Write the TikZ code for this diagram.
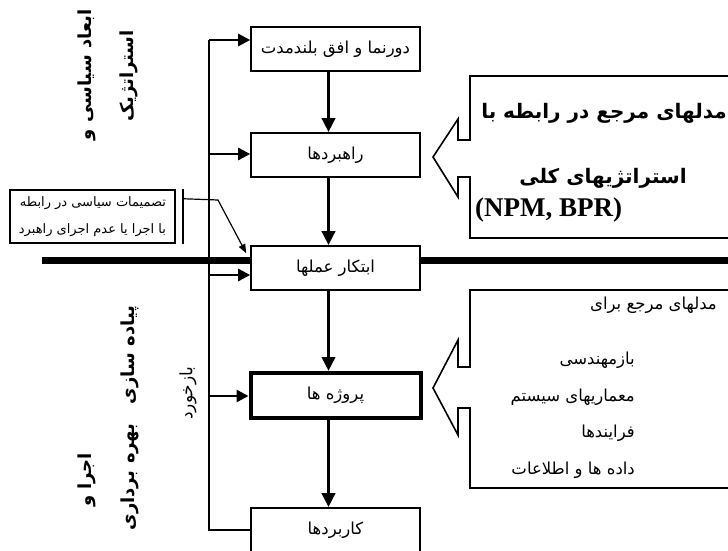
\documentclass[tikz,border=0pt]{standalone}
\usepackage{fontspec}
\newfontfamily\arabicfont[Script=Arabic]{DejaVu Sans}
\newfontfamily\timesfont{Liberation Serif}
\TeXXeTstate=1
\usetikzlibrary{arrows.meta}
\newcommand{\fa}[1]{\beginR #1\endR}
\tikzstyle{stage}=[draw,line width=1.6pt,fill=white,minimum width=169pt,minimum height=44pt,inner sep=0pt,font=\arabicfont\fontsize{16.5}{18}\selectfont]
\tikzstyle{flow} = [draw,line width=3.5pt,-{Triangle[length=14pt,width=13pt]}]
\tikzstyle{feed} = [draw,line width=2.5pt,-{Triangle[length=12pt,width=12pt]}]
\tikzstyle{decide} = [draw,line width=1.2pt,-{Triangle[length=9pt,width=7pt]}]
\tikzstyle{side label} = [rotate=90,inner sep=0pt,font=\arabicfont\bfseries\fontsize{18}{20}\selectfont]
\tikzstyle{callout} = [draw,line width=1.6pt]
\tikzstyle{ref title} = [inner sep=0pt,font=\arabicfont\bfseries\fontsize{20}{22}\selectfont]
\tikzstyle{model text} = [anchor=east,inner sep=0pt,font=\arabicfont\fontsize{16.5}{18}\selectfont]

\begin{document}
\begin{tikzpicture}[x=1pt,y=-1pt]
\useasboundingbox (0,0) rectangle (728,551);

% the thick line runs behind the stages
\coordinate (bar west) at (42,260);
\coordinate (bar east) at (728,260);
\draw[line width=7pt] (bar west) -- (bar east);

% First we draw the stages
\foreach \pos/\name/\text in {{(335.5,49)/vision/دورنما و افق بلندمدت}, {(335.5,155)/strategy/راهبردها}, {(335.5,268)/initiative/ابتکار عملها}, {(335.5,530)/application/کاربردها}}
  \node[stage] (\name) at \pos {\fa{\text}};
\node[stage,line width=4pt,minimum width=170pt,minimum height=45pt] (project) at (335.5,395.5) {\fa{پروژه ها}};

% Connect stages with arrows
\foreach \source/\dest in {vision/strategy, strategy/initiative, initiative/project, project/application}
  \path[flow] ([xshift=-7pt]\source.south) -- ([xshift=-7pt]\dest.north);

% feedback line
\foreach \name/\y in {fb1/40, fb2/154, fb3/275, fb4/396, fb5/530}
  \coordinate (\name) at (209,\y);
\draw[line width=1.8pt] (fb1) -- (fb5) -- (fb5 -| application.west);
\foreach \pt/\dest in {fb1/vision, fb2/strategy, fb3/initiative, fb4/project}
  \path[feed] (\pt) -- (\pt -| \dest.west);

% political decisions
\node[draw,line width=2.5pt,minimum width=165pt,minimum height=53pt,inner sep=3pt,align=right,font=\arabicfont\fontsize{13}{27}\selectfont] (decision) at (92.5,216.5) {\fa{تصمیمات سیاسی در رابطه}\\\fa{با اجرا یا عدم اجرای راهبرد}};
\draw[line width=2pt] ([xshift=7pt]decision.north east) -- ([xshift=7pt]decision.south east);
\coordinate (bend) at (218,200);
\path[decide] ([xshift=7pt,yshift=-10pt]decision.north east) -- (bend) -- ([xshift=-4pt,yshift=-8pt]initiative.north west);

% reference model callouts
\draw[callout] (728,76) -- (470,76) -- (470,140) -- (458,140) -- (458,119) -- (433,157) -- (458,197) -- (458,177) -- (470,177) -- (470,238) -- (728,238);
\draw[callout] (728,290) -- (470,290) -- (470,367) -- (458,367) -- (458,340) -- (433,388) -- (458,435) -- (458,408) -- (470,408) -- (470,488) -- (728,488);

\node[ref title,anchor=east] (ref1) at (727,113) {\fa{مدلهای مرجع در رابطه با}};
\node[ref title] (ref2) at (603,178) {\fa{استراتژیهای کلی}};
\node[anchor=west,inner sep=0pt,font=\timesfont\bfseries\fontsize{27}{30}\selectfont] (ref3) at (475,210) {(NPM, BPR)};

\node[model text] (models) at (717,305) {\fa{مدلهای مرجع برای}};
\foreach \y/\name/\text in {360/reeng/بازمهندسی, 397/arch/معماریهای سیستم, 433/proc/فرایندها, 470/data/داده ها و اطلاعات}
  \node[model text] (\name) at (635,\y) {\fa{\text}};

% side labels
\foreach \pos/\name/\text in {{(87,75)/dim1/ابعاد سیاسی و}, {(129,76)/dim2/استراتژیک}, {(130,355)/impl/پیاده سازی}, {(130,477)/oper/بهره برداری}, {(87,480)/exec/اجرا و}}
  \node[side label] (\name) at \pos {\fa{\text}};
\node[side label,font=\arabicfont\fontsize{17}{19}\selectfont] (feedback) at (188,393) {\fa{بازخورد}};
\end{tikzpicture}
\end{document}
